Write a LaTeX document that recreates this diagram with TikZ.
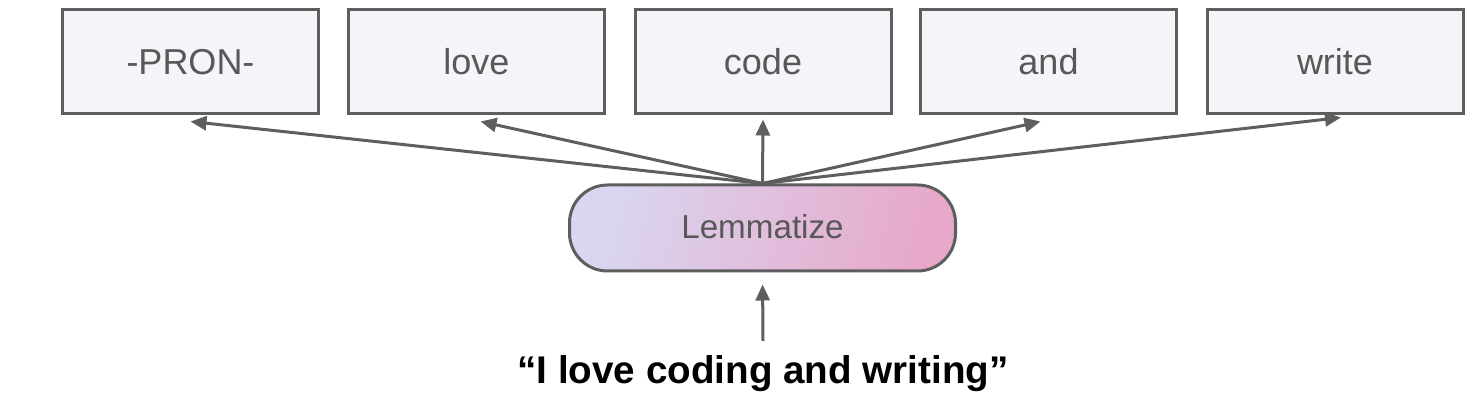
\documentclass[tikz,border=0pt]{standalone}
\usepackage{fontspec}
\setmainfont{Liberation Sans}
\usetikzlibrary{arrows.meta,calc}
\definecolor{boxfill}{HTML}{F5F4F9}
\definecolor{edge}{HTML}{5E5E5E}
\definecolor{txt}{HTML}{585858}
\definecolor{pillL}{HTML}{D9D7F0}
\definecolor{pillR}{HTML}{E7A8CA}
\tikzset{
  wordbox/.style={draw=edge, line width=1.5pt, fill=boxfill, minimum width=128pt, minimum height=52pt, inner sep=0pt,
    text=txt, font=\fontsize{18}{21}\selectfont},
  pill/.style={draw=edge, line width=1.5pt, rounded corners=19pt, minimum width=193pt, minimum height=43pt, inner sep=0pt,
    left color=pillL, right color=pillR, shading angle=75, text=txt, font=\fontsize{16.6}{19}\selectfont},
  arr/.style={draw=edge, line width=1.5pt, -{Triangle[length=8pt,width=7pt]}},
  srctext/.style={font=\fontsize{19.3}{22}\selectfont\bfseries, text=black, inner sep=0pt}
}
\begin{document}
\begin{tikzpicture}[x=0.5pt,y=-0.5pt]
\useasboundingbox (0,0) rectangle (1474,400);
\node[wordbox] (b1) at (190.5,62) {-PRON-};
\node[wordbox] (b2) at (476.5,62) {love};
\node[wordbox] (b3) at (763,62) {code};
\node[wordbox] (b4) at (1048.5,62) {and};
\node[wordbox] (b5) at (1335,62) {write};
\node[pill] (lem) at (762.5,228) {\raisebox{1.5pt}{Lemmatize}};
\node[srctext] (src) at (763,374) {“I love coding and writing”};
\coordinate (t1) at ($(b1.south)+(0,6)$);
\coordinate (t2) at ($(b2.south)+(4,6)$);
\coordinate (t3) at ($(b3.south)+(0,4)$);
\coordinate (t4) at ($(b4.south)+(-8,6)$);
\coordinate (t5) at ($(b5.south)+(6,2)$);
\coordinate (s0) at (763,341);
\foreach \t in {t1,t2,t3,t4,t5}{
  \draw[arr] (lem.north) -- (\t);
}
\draw[arr, shorten >=6pt] (s0) -- (lem.south);
\end{tikzpicture}
\end{document}
